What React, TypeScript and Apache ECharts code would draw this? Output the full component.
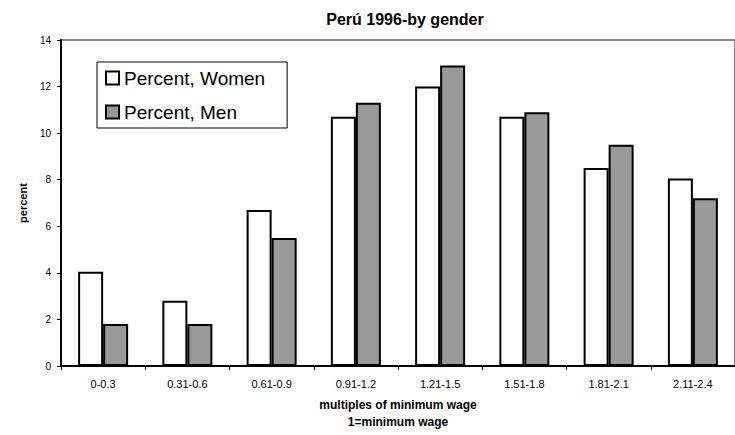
import React, { useEffect, useRef } from "react";
import * as echarts from "echarts";

const categories = ["0-0.3", "0.31-0.6", "0.61-0.9", "0.91-1.2", "1.21-1.5", "1.51-1.8", "1.81-2.1", "2.11-2.4"];
const women = [4.05, 2.8, 6.7, 10.7, 12.0, 10.7, 8.5, 8.05];
const men = [1.8, 1.8, 5.5, 11.3, 12.9, 10.9, 9.5, 7.2];
const seriesNames = ["Percent, Women", "Percent, Men"];

const FONT = "'Liberation Sans', Arial, sans-serif";

export default function App() {
  const ref = useRef<HTMLDivElement>(null);
  useEffect(() => {
    if (!ref.current) return;
    const chart = echarts.init(ref.current, undefined, { renderer: "svg" });
    chart.setOption({
      animation: false,
      backgroundColor: "#ffffff",
      textStyle: { fontFamily: FONT },
      title: {
        text: "Perú 1996-by gender",
        left: 400,
        textAlign: "center",
        top: 6,
        textStyle: { fontFamily: FONT, fontSize: 16, fontWeight: "bold", color: "#000" },
      },
      legend: {
        orient: "vertical",
        left: 97,
        top: 62,
        padding: [6, 22, 6, 8],
        itemGap: 14,
        itemWidth: 13,
        itemHeight: 13,
        icon: "rect",
        borderColor: "#000",
        borderWidth: 1,
        backgroundColor: "#fff",
        textStyle: { fontFamily: FONT, fontSize: 19, color: "#000", lineHeight: 20 },
        itemStyle: { borderColor: "#000", borderWidth: 2 },
        data: seriesNames,
      },
      grid: {
        left: 61,
        top: 40,
        width: 686,
        height: 329,
        show: true,
        borderColor: "#888",
        borderWidth: 2,
        backgroundColor: "transparent",
      },
      xAxis: {
        type: "category",
        data: categories,
        axisLine: { lineStyle: { color: "#000", width: 2 } },
        axisTick: { show: true, length: 4, alignWithLabel: false, lineStyle: { color: "#000" } },
        axisLabel: { fontSize: 11, color: "#000", margin: 12, fontFamily: FONT },
        name: "multiples of minimum wage\n1=minimum wage",
        nameLocation: "middle",
        nameGap: 30,
        nameTextStyle: { fontFamily: FONT, fontSize: 12, fontWeight: "bold", color: "#000", lineHeight: 17, verticalAlign: "top" },
      },
      yAxis: {
        type: "value",
        min: 0,
        max: 14,
        interval: 2,
        axisLine: { show: true, lineStyle: { color: "#000", width: 2 } },
        axisTick: { show: true, length: 4, lineStyle: { color: "#000" } },
        splitLine: { show: false },
        axisLabel: { fontSize: 10, color: "#000", margin: 10, fontFamily: FONT },
        name: "percent",
        nameLocation: "middle",
        nameGap: 32,
        nameTextStyle: { fontFamily: FONT, fontSize: 11, fontWeight: "bold", color: "#000" },
      },
      series: [
        {
          name: seriesNames[0],
          type: "bar",
          data: women,
          barWidth: 25,
          barGap: "0%",
          itemStyle: { color: "#ffffff", borderColor: "#000", borderWidth: 2 },
        },
        {
          name: seriesNames[1],
          type: "bar",
          data: men,
          barWidth: 25,
          barGap: "0%",
          itemStyle: { color: "#999999", borderColor: "#000", borderWidth: 2 },
        },
      ],
    });
    return () => chart.dispose();
  }, []);
  return <div ref={ref} style={{ width: 735, height: 435, position: "absolute", left: 0, top: 0 }} />;
}
